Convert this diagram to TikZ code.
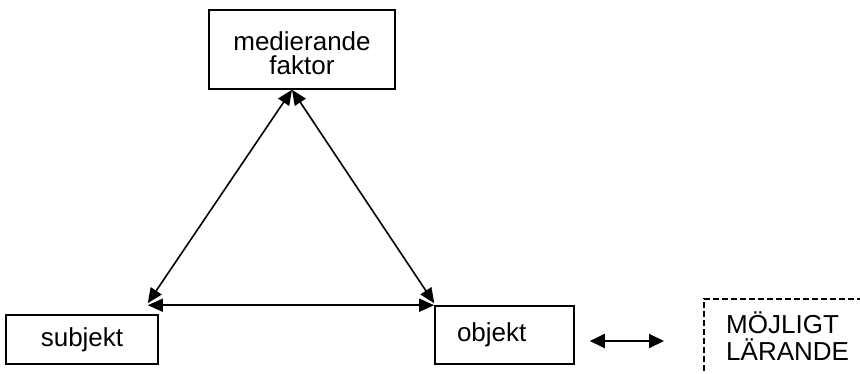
\documentclass[tikz,border=0pt]{standalone}
\usepackage{fontspec}
\setmainfont{Liberation Sans}
\usetikzlibrary{arrows.meta}
\begin{document}
\begin{tikzpicture}[x=1pt,y=-1pt]


\tikzstyle{box}=[shape=rectangle, draw, line width=1.6pt,
    align=center, inner sep=0pt]
\tikzstyle{link}=[<->, >={Triangle[length=15pt,width=13pt]}, line width=1.6pt]
  \fontsize{26pt}{24pt}\selectfont
  \useasboundingbox (0,0) rectangle (860,373);

  \node[box, minimum width=186pt, minimum height=79pt] (faktor) at (302,49.5) {\rule{0pt}{27pt}medierande\\faktor};

  \node[box, minimum width=152pt, minimum height=49pt] (subjekt) at (82,339.5) {subjekt};
  \node[box, minimum width=139pt, minimum height=58pt, text width=95pt, align=left] (objekt) at (504.5,335) {objekt};
  \node[anchor=north west, align=left, inner sep=0pt] (larande) at (726,312) {MÖJLIGT\\[3pt]LÄRANDE};

  \coordinate (apex) at ([xshift=-10pt]faktor.south);
  \coordinate (left) at ([shift={(-11pt,11pt)}]subjekt.north east);
  \coordinate (right) at ([yshift=2pt]objekt.north west);

  \draw[link] (apex) -- (left);
  \draw[link] (apex) -- (right);
  \draw[link] ([yshift=-2pt]left) -- ([yshift=-2pt]left -| right);

  % possible learning
  \coordinate (from) at ([shift={(15pt,-6pt)}]objekt.east);
  \coordinate (to) at ([xshift=-62pt]larande.west);
  \draw[link, line width=2pt, >={Triangle[length=15pt,width=14pt]}] (from) -- (from -| to);
  \draw[line width=1.5pt, dash pattern=on 6pt off 3pt] (704,380) -- (704,299) -- (870,299);


\end{tikzpicture}
\end{document}
